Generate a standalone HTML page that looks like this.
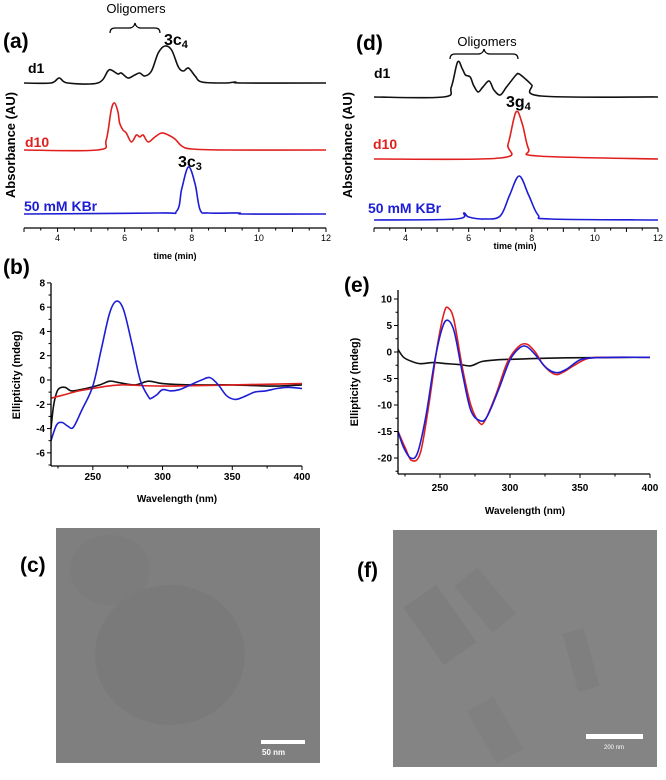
<!DOCTYPE html>
<html><head><meta charset="utf-8"><style>
html,body{margin:0;background:#fff;overflow:hidden;width:666px;height:780px;}
svg{display:block;font-family:"Liberation Sans",sans-serif;}
</style></head><body>
<svg id="fig" width="666" height="780" viewBox="0 0 666 780">
<g id="static">
<text x="3" y="48" font-size="21" font-weight="bold">(a)</text>
<text x="356" y="50" font-size="21" font-weight="bold">(d)</text>
<text x="3" y="274" font-size="21" font-weight="bold">(b)</text>
<text x="344" y="292" font-size="21" font-weight="bold">(e)</text>
<text x="20" y="572" font-size="21" font-weight="bold">(c)</text>
<text x="357" y="577" font-size="21" font-weight="bold">(f)</text>
<text x="136" y="13" font-size="13" text-anchor="middle">Oligomers</text>
<path d="M110,33 q0,-5 5,-5 h14 q5,0 6,-5 q1,5 6,5 h14 q5,0 5,5" fill="none" stroke="#000" stroke-width="1.2"/>
<text x="164" y="45" font-size="16" font-weight="bold">3c<tspan font-size="11" dy="3">4</tspan></text>
<text x="178" y="167" font-size="16" font-weight="bold">3c<tspan font-size="11" dy="3">3</tspan></text>
<text x="28" y="73" font-size="14" font-weight="bold">d1</text>
<text x="25" y="147" font-size="14" font-weight="bold" fill="#e0201e">d10</text>
<text x="24" y="211" font-size="14" font-weight="bold" fill="#1d1dd6">50 mM KBr</text>
<text transform="translate(15,145) rotate(-90)" font-size="13" font-weight="bold" text-anchor="middle">Absorbance (AU)</text>
<text x="175" y="259" font-size="9" font-weight="bold" text-anchor="middle">time (min)</text>
<text x="487" y="46" font-size="13" text-anchor="middle">Oligomers</text>
<path d="M450,59 q0,-5 5,-5 h23 q5,0 6,-5 q1,5 6,5 h23 q5,0 5,5" fill="none" stroke="#000" stroke-width="1.2"/>
<text x="506" y="107" font-size="16" font-weight="bold">3g<tspan font-size="11" dy="3">4</tspan></text>
<text x="374" y="78" font-size="14" font-weight="bold">d1</text>
<text x="373" y="149" font-size="14" font-weight="bold" fill="#e0201e">d10</text>
<text x="368" y="213" font-size="14" font-weight="bold" fill="#1d1dd6">50 mM KBr</text>
<text transform="translate(352,145) rotate(-90)" font-size="13" font-weight="bold" text-anchor="middle">Absorbance (AU)</text>
<text x="515" y="249" font-size="9" font-weight="bold" text-anchor="middle">time (min)</text>
<text transform="translate(20,375) rotate(-90)" font-size="11" font-weight="bold" text-anchor="middle">Ellipticity (mdeg)</text>
<text x="177" y="502" font-size="10" font-weight="bold" text-anchor="middle">Wavelength (nm)</text>
<text transform="translate(358,382) rotate(-90)" font-size="11" font-weight="bold" text-anchor="middle">Ellipticity (mdeg)</text>
<text x="525" y="514" font-size="10" font-weight="bold" text-anchor="middle">Wavelength (nm)</text>
<g>
<rect x="56" y="528" width="264" height="235" fill="#7f7f7f"/>
<ellipse cx="170" cy="655" rx="75" ry="70" fill="#767676" opacity="0.6"/>
<ellipse cx="110" cy="570" rx="40" ry="35" fill="#7a7a7a" opacity="0.5"/>
<rect x="261" y="740" width="44" height="4" fill="#fff"/>
<text x="262" y="755" font-size="8" font-weight="bold" fill="#fff">50 nm</text>
</g>
<g>
<rect x="393" y="530" width="264" height="237" fill="#848484"/>
<rect x="420" y="590" width="40" height="70" fill="#7a7a7a" opacity="0.6" transform="rotate(-35 440 625)"/>
<rect x="470" y="570" width="30" height="60" fill="#7b7b7b" opacity="0.6" transform="rotate(-40 485 600)"/>
<rect x="570" y="630" width="22" height="60" fill="#7b7b7b" opacity="0.6" transform="rotate(-15 581 660)"/>
<rect x="480" y="700" width="30" height="60" fill="#7b7b7b" opacity="0.5" transform="rotate(-30 495 730)"/>
<rect x="586" y="734" width="57" height="5" fill="#fff"/>
<text x="614" y="749" font-size="6" fill="#fff" text-anchor="middle">200 nm</text>
</g>
</g>
<g id="charts"></g>
</svg>
<script>
const aD1T=[3,3.8,4.05,4.3,5.2,5.5,5.6,5.8,5.9,6.1,6.3,6.45,6.6,6.8,7.0,7.2,7.4,7.6,7.75,7.9,8.1,8.3,9,9.3,9.5,12];
const aD1V=[0,0,5,0,0,12,13,9,10,5,8,10,7,12,30,37,33,16,12,15,7,1,0,1,0,0];
const aD10T=[3,5.2,5.45,5.6,5.7,5.8,5.85,5.95,6.05,6.2,6.35,6.45,6.55,6.7,6.9,7.1,7.3,7.5,7.7,8,9,12];
const aD10V=[0,0,10,40,47,38,27,20,17,8,15,13,15,8,13,17,15,11,4,1,0,0];
const aKbrT=[3,7,7.55,7.7,7.9,8.1,8.25,8.5,9.4,9.6,12];
const aKbrV=[0,1,3,25,47,30,4,1,1,0,0];
const dD1T=[3,5.2,5.45,5.65,5.8,5.9,6.05,6.15,6.3,6.45,6.65,6.8,7.0,7.2,7.5,7.6,7.8,8.0,8.3,12];
const dD1V=[0,0,10,35,28,22,20,12,5,10,16,7,2,10,22,23,18,12,1,0];
const dD10T=[3,7,7.25,7.5,7.7,7.9,8.2,12];
const dD10V=[0,1,15,47,35,10,3,0];
const dKbrT=[3,5.6,5.85,6.0,6.5,7.0,7.3,7.6,7.9,8.2,8.6,12];
const dKbrV=[0,1,7,3,1,4,25,44,25,5,1,0];
const timeTicks=[4,6,8,10,12];
const bBlueW=[220,224,228,232,236,242,250,256,262,267,272,278,284,290,292,296,300,306,312,320,328,334,340,346,352,358,366,374,382,390,400];
const bBlueV=[-5,-3.7,-3.5,-3.8,-3.9,-2.5,-0.5,2.5,5.5,6.5,5.8,3,0,-1.4,-1.5,-1.2,-0.8,-0.9,-0.8,-0.4,0,0.2,-0.4,-1.3,-1.6,-1.4,-1.0,-0.9,-0.7,-0.6,-0.7];
const bBlackW=[220,222,225,230,235,245,255,262,268,280,290,300,320,350,380,400];
const bBlackV=[-4,-2,-0.8,-0.6,-0.9,-0.7,-0.4,-0.1,-0.2,-0.4,-0.1,-0.3,-0.4,-0.4,-0.5,-0.4];
const bRedW=[220,230,240,255,270,300,350,400];
const bRedV=[-1.5,-1.2,-0.9,-0.6,-0.4,-0.5,-0.4,-0.3];
const eRedW=[220,225,230,236,242,248,253,256,260,266,272,278,282,290,298,306,312,318,324,332,338,346,356,370,400];
const eRedV=[-15,-18,-20.5,-19,-10,1,7.5,8.3,6,-3,-10,-13.3,-13,-8,-2,1,1.5,0,-2.5,-4.2,-3.8,-2.5,-1.2,-1,-1];
const eBlueW=[220,224,229,234,240,246,251,255,260,266,272,279,284,292,300,307,312,318,326,333,340,350,360,380,400];
const eBlueV=[-15,-18,-20,-19,-12,-2,4,6,4,-4,-11,-13,-12,-7,-1.5,0.8,1,-0.5,-3,-3.9,-3.3,-1.5,-1.1,-1,-1];
const eBlackW=[220,224,230,236,245,255,265,272,280,290,310,340,400];
const eBlackV=[0.5,-1,-1.8,-2.2,-2,-2.2,-2.4,-2.6,-1.8,-1.5,-1.3,-1.1,-1];
const wlTicks=[250,300,350,400];
const bYTicks=[-6,-4,-2,0,2,4,6,8];
const eYTicks=[-20,-15,-10,-5,0,5,10];

const NS="http://www.w3.org/2000/svg";
const root=document.getElementById('charts');
function mk(tag,attrs,parent){const e=document.createElementNS(NS,tag);for(const k in attrs)e.setAttribute(k,attrs[k]);(parent||root).appendChild(e);return e;}
function lin(d0,d1,r0,r1){return v=>r0+(v-d0)*(r1-r0)/(d1-d0);}
function smooth(pts){let d='M'+pts[0][0].toFixed(1)+','+pts[0][1].toFixed(1);
 for(let i=0;i<pts.length-1;i++){const p0=pts[Math.max(0,i-1)],p1=pts[i],p2=pts[i+1],p3=pts[Math.min(pts.length-1,i+2)];
  const c1=[p1[0]+(p2[0]-p0[0])/6,p1[1]+(p2[1]-p0[1])/6],c2=[p2[0]-(p3[0]-p1[0])/6,p2[1]-(p3[1]-p1[1])/6];
  d+=' C'+c1[0].toFixed(1)+','+c1[1].toFixed(1)+' '+c2[0].toFixed(1)+','+c2[1].toFixed(1)+' '+p2[0].toFixed(1)+','+p2[1].toFixed(1);}
 return d;}
function trace(xs,vs,xf,yf,color,name){const p=mk('path',{d:smooth(xs.map((x,i)=>[xf(x),yf(vs[i])])),fill:'none',stroke:color,'stroke-width':1.6,'stroke-linejoin':'round'});
 
 }
function chrom(x0,x1,axisY,bases,series,prefix,labelY){
 const xf=lin(3,12,x0,x1);
 series.forEach((s,i)=>{const b=bases[i];trace(s[0],s[1],xf,v=>b-v,s[2],prefix+'-trace-'+s[3]);});
 const ax=mk('line',{x1:x0,x2:x1,y1:axisY,y2:axisY,stroke:'#000','stroke-width':1.3});
 
 
 for(let t=3;t<=12;t+=0.5){mk('line',{x1:xf(t),x2:xf(t),y1:axisY,y2:axisY+(t%1===0?4:2.5),stroke:'#000','stroke-width':1});}
 timeTicks.forEach(t=>{const tx=mk('text',{x:xf(t),y:labelY,'font-size':9,'text-anchor':'middle'});tx.textContent=t;
  
  });
}
chrom(24,326,228,[83,150,214],[[aD1T,aD1V,'#111','d1'],[aD10T,aD10V,'#e0201e','d10'],[aKbrT,aKbrV,'#1d1dd6','kbr']],'panel-a',241);
chrom(374,658,228,[97,159,220],[[dD1T,dD1V,'#111','d1'],[dD10T,dD10V,'#e0201e','d10'],[dKbrT,dKbrV,'#1d1dd6','kbr']],'panel-d',241);
function cd(prefix,xL,xR,yTop,yBot,v0,y0,pxPer,yTicks,series,tickLabY,minorStep){
 const xf=lin(220,400,xL,xR);const yf=v=>y0-v*pxPer;
 series.forEach(s=>trace(s[0],s[1],xf,yf,s[2],prefix+'-trace-'+s[3]));
 const ya=mk('line',{x1:xL,x2:xL,y1:yTop,y2:yBot,stroke:'#000','stroke-width':1.3});
 
 
 const xa=mk('line',{x1:xL,x2:xR,y1:yBot,y2:yBot,stroke:'#000','stroke-width':1.3});
 
 
 for(let w=225;w<=400;w+=25){mk('line',{x1:xf(w),x2:xf(w),y1:yBot,y2:yBot+(w%50===0?4:2.5),stroke:'#000','stroke-width':1});}
 wlTicks.forEach(w=>{const t=mk('text',{x:xf(w),y:tickLabY,'font-size':10,'font-weight':'bold','text-anchor':'middle'});t.textContent=w;
  
  });
 yTicks.forEach(v=>{mk('line',{x1:xL-4,x2:xL,y1:yf(v),y2:yf(v),stroke:'#000','stroke-width':1});
  const t=mk('text',{x:xL-6,y:yf(v)+3.5,'font-size':10,'font-weight':'bold','text-anchor':'end'});t.textContent=v;
  
  });
 for(let v=yTicks[0]-minorStep;v<=yTicks[yTicks.length-1];v+=minorStep*2){const yy=yf(v);if(yy>yTop&&yy<yBot)mk('line',{x1:xL-2.5,x2:xL,y1:yy,y2:yy,stroke:'#000','stroke-width':1});}
}
cd('panel-b',51,302,283,466,0,380,12.14,bYTicks,[[bBlackW,bBlackV,'#111','black'],[bRedW,bRedV,'#e0201e','red'],[bBlueW,bBlueV,'#1d1dd6','blue']],480,1);
cd('panel-e',398,650,290,474,0,352,5.3,eYTicks,[[eBlackW,eBlackV,'#111','black'],[eRedW,eRedV,'#e0201e','red'],[eBlueW,eBlueV,'#1d1dd6','blue']],491,2.5);
</script>
</body></html>
